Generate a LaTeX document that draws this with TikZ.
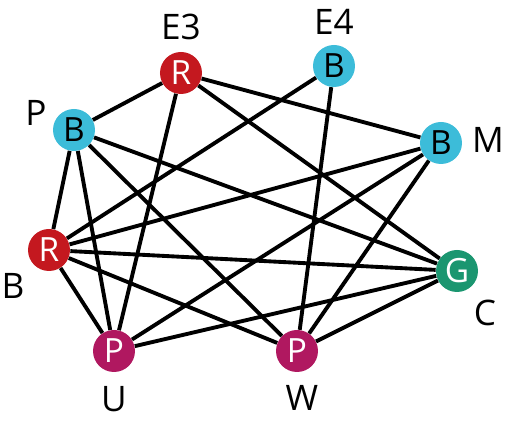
\documentclass[tikz,border=0pt]{standalone}
\usepackage{fontspec}
\setmainfont{Open Sans}
\usetikzlibrary{positioning}

\definecolor{rcol}{HTML}{C4181F}
\definecolor{bcol}{HTML}{3CBCD9}
\definecolor{gcol}{HTML}{1B9670}
\definecolor{pcol}{HTML}{B01860}

\tikzset{
  vtx/.style={circle, minimum size=0.84cm, inner sep=0pt, font=\fontsize{19}{19}\selectfont},
  vR/.style={vtx, fill=rcol, text=white},
  vB/.style={vtx, fill=bcol, text=black},
  vG/.style={vtx, fill=gcol, text=white},
  vP/.style={vtx, fill=pcol, text=white},
  lab/.style={font=\fontsize{20}{20}\selectfont, text=black},
  edge/.style={line width=2.2pt}
}

\begin{document}
\begin{tikzpicture}
				\useasboundingbox (0,0) rectangle (10.12,8.54);
				
				% Вершины
				\node[vR] (E3) at (3.62,7.08) {R};
				\node[vB] (E4) at (6.68,7.22) {B};
				\node[vB] (P) at (1.48,5.94) {B};
				\node[vB] (M) at (8.82,5.68) {B};
				\node[vR] (B) at (0.98,3.54) {R};
				\node[vG] (C) at (9.14,3.12) {G};
				\node[vP] (U) at (2.28,1.52) {P};
				\node[vP] (W) at (5.94,1.52) {P};
				
				% Рёбра
				\draw[edge] (E3) -- (P);
				\draw[edge] (E3) -- (M);
				\draw[edge] (E3) -- (C);
				\draw[edge] (E3) -- (U);
				\draw[edge] (E4) -- (B);
				\draw[edge] (E4) -- (W);
				\draw[edge] (P) -- (C);
				\draw[edge] (P) -- (W);
				\draw[edge] (P) -- (U);
				\draw[edge] (P) -- (B);
				\draw[edge] (M) -- (B);
				\draw[edge] (M) -- (U);
				\draw[edge] (M) -- (W);
				\draw[edge] (B) -- (C);
				\draw[edge] (B) -- (W);
				\draw[edge] (B) -- (U);
				\draw[edge] (C) -- (U);
				\draw[edge] (C) -- (W);
				
				% Подписи вершин
				\node[lab] (E3lab) at (3.62,8.00) {E3};
				\node[lab] (E4lab) at (6.68,8.10) {E4};
				\node[lab] (Plab) at (0.72,6.28) {P};
				\node[lab] (Mlab) at (9.76,5.74) {M};
				\node[lab] (Blab) at (0.26,2.82) {B};
				\node[lab] (Clab) at (9.70,2.28) {C};
				\node[lab] (Ulab) at (2.28,0.56) {U};
				\node[lab] (Wlab) at (6.04,0.58) {W};
			\end{tikzpicture}
\end{document}
